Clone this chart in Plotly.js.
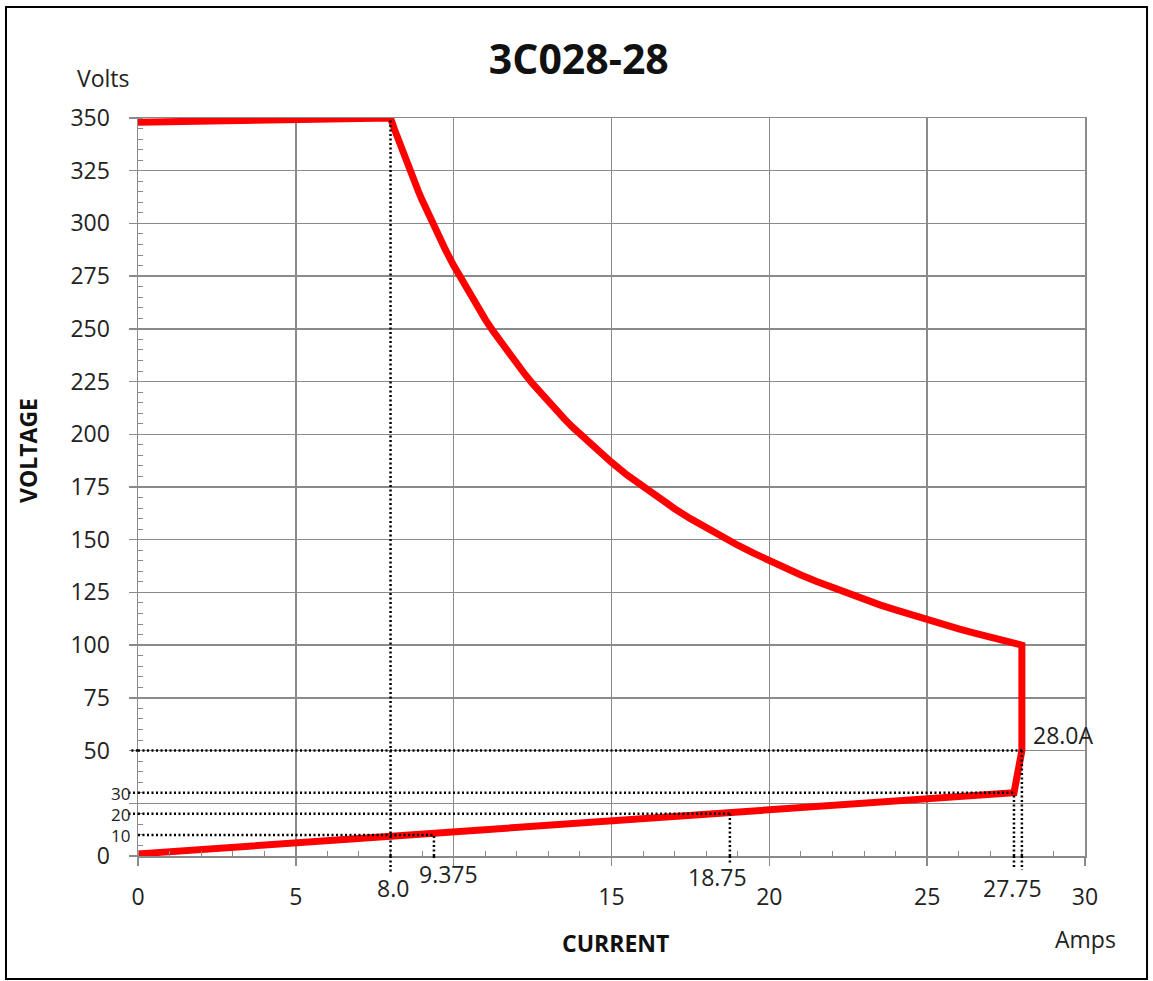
<!DOCTYPE html>
<html>
<head>
<meta charset="utf-8">
<script src="https://cdn.plot.ly/plotly-3.0.1.min.js"></script>
<style>
  html, body { margin: 0; padding: 0; background: #ffffff; }
  #chart { width: 1153px; height: 981px; }
</style>
</head>
<body>
<div id="chart"></div>
<script>
// ---- data ----
var current = [0, 8, 8.125, 8.25, 8.375, 8.5, 8.625, 8.75, 8.875, 9, 9.25, 9.5, 9.75, 10, 10.25, 10.5, 10.75, 11, 11.25, 11.5, 11.75, 12, 12.25, 12.5, 12.75, 13, 13.25, 13.5, 13.75, 14, 14.5, 15, 15.5, 16, 16.5, 17, 17.5, 18, 18.5, 19, 19.5, 20, 20.5, 21, 21.5, 22, 22.5, 23, 23.5, 24, 24.5, 25, 25.5, 26, 26.5, 27, 27.5, 28, 28, 27.75, 0];
var voltage = [348, 350, 344.6, 339.4, 334.3, 329.4, 324.6, 320, 315.5, 311.1, 302.7, 294.7, 287.2, 280, 273.2, 266.7, 260.5, 254.5, 248.9, 243.5, 238.3, 233.3, 228.6, 224, 219.6, 215.4, 211.3, 207.4, 203.6, 200, 193.1, 186.7, 180.6, 175, 169.7, 164.7, 160, 155.6, 151.4, 147.4, 143.6, 140, 136.6, 133.3, 130.2, 127.3, 124.4, 121.7, 119.1, 116.7, 114.3, 112, 109.8, 107.7, 105.7, 103.7, 101.8, 100, 50, 30, 1];

// dotted guide lines: horizontal level and the current where it meets the curve
var guideVolts = [50, 30, 20, 10];
var guideAmps = [28, 27.75, 18.75, 9.375];
var powerKneeAmps = 8;

var xTickVals = [0, 5, 10, 15, 20, 25, 30];
var xTickText = ['0', '5', '', '15', '20', '25', '30'];
var yTickVals = [0, 25, 50, 75, 100, 125, 150, 175, 200, 225, 250, 275, 300, 325, 350];
var yTickText = ['0', '', '50', '75', '100', '125', '150', '175', '200', '225', '250', '275', '300', '325', '350'];
var ySmallLabels = [10, 20, 30];
var xSpecialLabels = ['8.0', '9.375', '18.75', '27.75'];
var xSpecialVals = [8, 9.375, 18.75, 27.75];

var FONT = 'Open Sans, Noto Sans, DejaVu Sans, sans-serif';
var GRID = '#8a8a8a';
var TXT = '#222222';
var dotStyle = {color: '#000000', width: 2.5, dash: '2px,2.5px'};

var shapes = [];
// vertical dotted at the power knee (8 A) from 0 to 350 V
shapes.push({type: 'line', xref: 'x', yref: 'y', x0: powerKneeAmps, x1: powerKneeAmps, y0: 0, y1: 350, line: dotStyle, layer: 'above'});
shapes.push({type: 'line', xref: 'x', yref: 'paper', x0: powerKneeAmps, x1: powerKneeAmps, y0: 0, y1: -0.024, line: dotStyle, layer: 'above'});
var belowExt = [-0.019, -0.016, -0.01, -0.006];
var leftExt = [-0.007, -0.01, -0.01, 0];
for (var i = 0; i < guideVolts.length; i++) {
  shapes.push({type: 'line', xref: 'x', yref: 'y', x0: 0, x1: guideAmps[i], y0: guideVolts[i], y1: guideVolts[i], line: dotStyle, layer: 'above'});
  shapes.push({type: 'line', xref: 'x', yref: 'y', x0: guideAmps[i], x1: guideAmps[i], y0: 0, y1: guideVolts[i], line: dotStyle, layer: 'above'});
  shapes.push({type: 'line', xref: 'x', yref: 'paper', x0: guideAmps[i], x1: guideAmps[i], y0: 0, y1: belowExt[i], line: dotStyle, layer: 'above'});
  if (leftExt[i] < 0) {
    shapes.push({type: 'line', xref: 'paper', yref: 'y', x0: leftExt[i], x1: 0, y0: guideVolts[i], y1: guideVolts[i], line: dotStyle, layer: 'above'});
  }
}
// outer frame of the figure
shapes.push({type: 'rect', xref: 'paper', yref: 'paper', x0: -0.1394, x1: 1.0655, y0: -0.1667, y1: 1.1504, line: {color: '#000000', width: 2}, layer: 'above'});

function ann(o) {
  o.showarrow = false;
  if (!o.xanchor) o.xanchor = 'center';
  if (!o.yanchor) o.yanchor = 'middle';
  return o;
}

var annotations = [];
annotations.push(ann({xref: 'paper', yref: 'paper', x: -0.036, y: 1.0542, text: 'Volts', font: {family: FONT, size: 23, color: TXT}}));
annotations.push(ann({xref: 'paper', yref: 'paper', x: 1.0, y: -0.1125, text: 'Amps', font: {family: FONT, size: 23, color: TXT}}));
annotations.push(ann({xref: 'paper', yref: 'paper', x: 0.5037, y: -0.1179, text: '<b>CURRENT</b>', font: {family: FONT, size: 23, color: '#111111'}}));
annotations.push(ann({xref: 'paper', yref: 'paper', x: -0.1162, y: 0.5501, text: '<b>VOLTAGE</b>', textangle: -90, font: {family: FONT, size: 23, color: '#111111'}}));
annotations.push(ann({xref: 'x', yref: 'y', x: 28, y: 50, xanchor: 'left', yanchor: 'bottom', xshift: 9, yshift: -2, text: '28.0A', font: {family: FONT, size: 23, color: TXT}}));
for (var j = 0; j < ySmallLabels.length; j++) {
  annotations.push(ann({xref: 'paper', yref: 'y', x: 0, y: ySmallLabels[j], xanchor: 'right', xshift: -7, borderpad: 0, height: 18, text: String(ySmallLabels[j]), font: {family: FONT, size: 17, color: TXT}}));
}
var xSpecShift = [2, 15, -12, -1];
var xSpecY = [-0.043, -0.0244, -0.0285, -0.0434];
for (var k = 0; k < xSpecialLabels.length; k++) {
  annotations.push(ann({xref: 'x', yref: 'paper', x: xSpecialVals[k], y: xSpecY[k], xshift: xSpecShift[k], text: xSpecialLabels[k], font: {family: FONT, size: 23, color: TXT}}));
}

var trace = {
  x: current,
  y: voltage,
  type: 'scatter',
  mode: 'lines',
  line: {color: 'rgb(255,0,0)', width: 7},
  hoverinfo: 'x+y',
  showlegend: false
};

var layout = {
  width: 1153,
  height: 981,
  margin: {l: 138, r: 68, t: 118, b: 125},
  paper_bgcolor: '#ffffff',
  plot_bgcolor: '#ffffff',
  showlegend: false,
  title: {
    text: '<b>3C028-28</b>',
    font: {family: FONT, size: 41, color: '#111111'},
    xref: 'container', x: 0.502, xanchor: 'center',
    yref: 'container', y: 0.939, yanchor: 'middle'
  },
  xaxis: {
    range: [0, 30],
    tickmode: 'array',
    tickvals: xTickVals,
    ticktext: xTickText,
    ticks: 'outside', ticklen: 8, tickwidth: 1.5, tickcolor: GRID,
    ticklabelstandoff: 12,
    showline: true, linecolor: GRID, linewidth: 1.5, mirror: true,
    showgrid: true, gridcolor: GRID, gridwidth: 1.5,
    zeroline: false,
    tickfont: {family: FONT, size: 23, color: TXT},
    minor: {tickmode: 'linear', tick0: 0, dtick: 1, ticks: 'inside', ticklen: 5, tickwidth: 1, tickcolor: GRID, showgrid: false}
  },
  yaxis: {
    range: [0, 350],
    tickmode: 'array',
    tickvals: yTickVals,
    ticktext: yTickText,
    ticks: 'outside', ticklen: 8, tickwidth: 1.5, tickcolor: GRID,
    ticklabelstandoff: 14,
    showline: true, linecolor: GRID, linewidth: 1.5, mirror: true,
    showgrid: true, gridcolor: GRID, gridwidth: 1.5,
    zeroline: false,
    tickfont: {family: FONT, size: 23, color: TXT},
    minor: {tickmode: 'linear', tick0: 0, dtick: 5, ticks: 'inside', ticklen: 5, tickwidth: 1, tickcolor: GRID, showgrid: false}
  },
  shapes: shapes,
  annotations: annotations
};

Plotly.newPlot('chart', [trace], layout, {displayModeBar: false, staticPlot: true});
</script>
</body>
</html>
